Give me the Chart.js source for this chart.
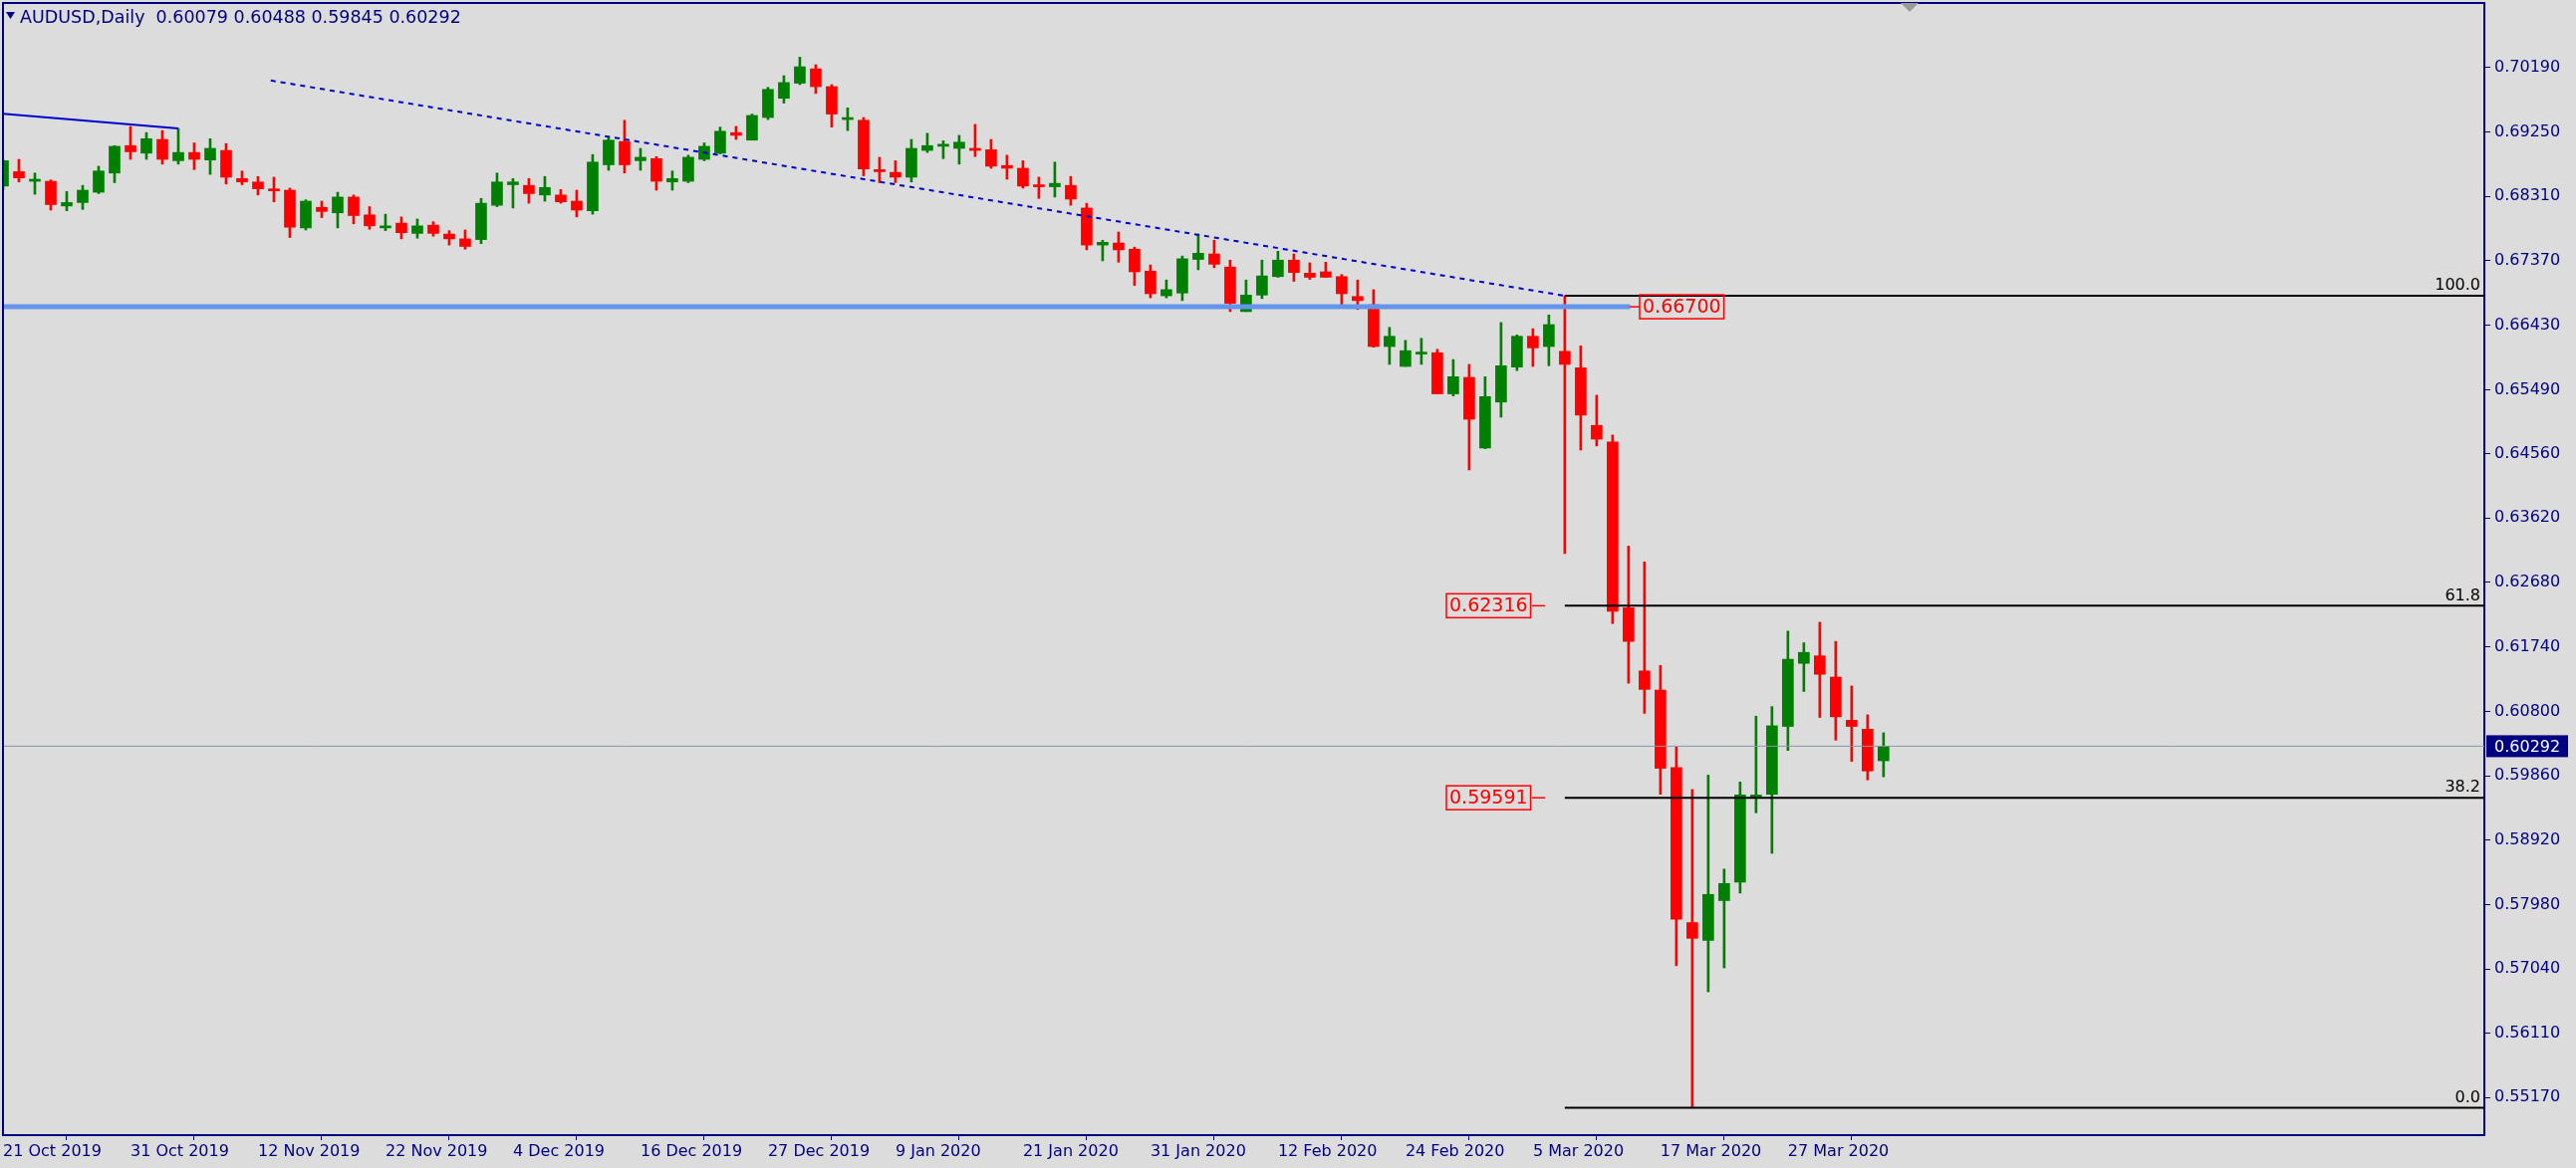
<!DOCTYPE html>
<html>
<head>
<meta charset="utf-8">
<script src="https://cdn.jsdelivr.net/npm/chart.js@4.4.1/dist/chart.umd.min.js"></script>
<style>
  html, body { margin: 0; padding: 0; background: #dcdcdc; }
  #wrap { width: 2586px; height: 1173px; }
</style>
</head>
<body>
<div id="wrap"><canvas id="c" width="2586" height="1173"></canvas></div>
<script>
// AUDUSD daily candles, 21 Oct 2019 .. 2 Apr 2020
const opens = [
  .6846,.6867,.6853,.6853,.6817,.6822,.6837,.6865,.6905,.6894,
  .6914,.6883,.6895,.6884,.6898,.6857,.6852,.6841,.6840,.6785,
  .6815,.6807,.6830,.6804,.6785,.6792,.6777,.6789,.6776,.6769,
  .6768,.6818,.6848,.6847,.6833,.6833,.6824,.6810,.6877,.6911,
  .6883,.6886,.6852,.6853,.6885,.6894,.6924,.6913,.6946,.6974,
  .6996,.7017,.6991,.6943,.6942,.6870,.6866,.6859,.6898,.6904,
  .6901,.6901,.6899,.6876,.6872,.6846,.6845,.6847,.6814,.6760,
  .6763,.6754,.6722,.6686,.6690,.6739,.6747,.6728,.6663,.6687,
  .6714,.6738,.6719,.6721,.6714,.6685,.6673,.6612,.6583,.6601,
  .6603,.6543,.6567,.6464,.6531,.6582,.6627,.6612,.6605,.6581,
  .6497,.6473,.6231,.6139,.6111,.5998,.5772,.5746,.5804,.5831,
  .5955,.5959,.6058,.6150,.6161,.6130,.6067,.6054,.60079
];
const closes = [
  .6883,.6858,.6856,.6819,.6822,.6840,.6868,.6904,.6896,.6915,
  .6885,.6895,.6885,.6901,.6859,.6852,.6842,.6839,.6786,.6824,
  .6809,.6830,.6803,.6788,.6786,.6778,.6788,.6777,.6769,.6758,
  .6821,.6852,.6852,.6835,.6844,.6823,.6811,.6881,.6913,.6877,
  .6888,.6853,.6857,.6888,.6904,.6926,.6920,.6949,.6987,.6997,
  .7020,.6991,.6951,.6943,.6871,.6867,.6859,.6901,.6905,.6907,
  .6910,.6898,.6875,.6872,.6846,.6845,.6850,.6827,.6760,.6764,
  .6753,.6721,.6689,.6695,.6740,.6748,.6732,.6675,.6687,.6715,
  .6738,.6720,.6713,.6713,.6689,.6679,.6612,.6627,.6606,.6602,
  .6543,.6568,.6506,.6539,.6584,.6627,.6610,.6644,.6586,.6512,
  .6477,.6226,.6182,.6112,.5997,.5777,.5749,.5813,.5829,.5958,
  .5958,.6059,.6156,.6166,.6134,.6072,.6058,.5993,.60292
];
const highs = [
  .6885,.6885,.6865,.6855,.6838,.6847,.6875,.6905,.6933,.6924,
  .6927,.6930,.6909,.6915,.6908,.6868,.6860,.6859,.6843,.6826,
  .6824,.6837,.6833,.6816,.6805,.6801,.6798,.6794,.6781,.6782,
  .6828,.6865,.6857,.6857,.6860,.6841,.6840,.6892,.6918,.6942,
  .6901,.6889,.6868,.6891,.6909,.6932,.6933,.6951,.6990,.7007,
  .7034,.7023,.6994,.6960,.6946,.6888,.6883,.6914,.6923,.6912,
  .6920,.6936,.6914,.6891,.6883,.6859,.6881,.6860,.6821,.6767,
  .6779,.6757,.6731,.6709,.6744,.6776,.6767,.6738,.6709,.6738,
  .6751,.6747,.6734,.6735,.6717,.6709,.6695,.6640,.6621,.6624,
  .6608,.6593,.6586,.6568,.6647,.6629,.6638,.6658,.6686,.6613,
  .6541,.6483,.6321,.6298,.6147,.6028,.5966,.5987,.5850,.5977,
  .6073,.6087,.6197,.6180,.6210,.6182,.6117,.6075,.60488
];
const lows = [
  .6841,.6852,.6834,.6811,.6810,.6812,.6835,.6851,.6885,.6885,
  .6878,.6878,.6870,.6863,.6849,.6848,.6833,.6823,.6771,.6782,
  .6800,.6785,.6791,.6783,.6781,.6769,.6770,.6773,.6760,.6754,
  .6762,.6816,.6814,.6821,.6824,.6821,.6801,.6805,.6869,.6865,
  .6869,.6840,.6840,.6851,.6883,.6893,.6914,.6913,.6943,.6967,
  .6994,.6981,.6932,.6927,.6861,.6851,.6851,.6852,.6895,.6886,
  .6878,.6889,.6872,.6856,.6843,.6828,.6830,.6818,.6753,.6737,
  .6735,.6701,.6683,.6683,.6679,.6724,.6727,.6663,.6663,.6682,
  .6713,.6707,.6710,.6713,.6673,.6666,.6611,.6586,.6583,.6586,
  .6543,.6540,.6432,.6463,.6509,.6577,.6583,.6584,.6310,.6461,
  .6467,.6208,.6121,.6077,.5959,.5709,.5502,.5671,.5706,.5815,
  .5932,.5873,.6023,.6109,.6071,.6038,.6007,.5980,.59845
];

// axis labels
const dateLabels = ['21 Oct 2019','31 Oct 2019','12 Nov 2019','22 Nov 2019','4 Dec 2019','16 Dec 2019',
  '27 Dec 2019','9 Jan 2020','21 Jan 2020','31 Jan 2020','12 Feb 2020','24 Feb 2020','5 Mar 2020',
  '17 Mar 2020','27 Mar 2020'];
const dateTickStep = 8;
const priceTicks = [0.70190,0.69250,0.68310,0.67370,0.66430,0.65490,0.64560,0.63620,0.62680,
  0.61740,0.60800,0.59860,0.58920,0.57980,0.57040,0.56110,0.55170];

// drawn objects
const fibLevels = [0.6686, 0.6234, 0.5954, 0.5502];
const fibNames = ['100.0', '61.8', '38.2', '0.0'];
const fibStart = 98;
const dottedTrend = [{x: 16.8, y: 0.7000}, {x: 98, y: 0.6686}];
const solidTrend = [{x: -0.2, y: 0.6952}, {x: 11, y: 0.6930}];
const supportLevel = 0.6670;
const supportEnd = 102.1;
const lastPrice = 0.60292;
const title = 'AUDUSD,Daily  0.60079 0.60488 0.59845 0.60292';

const NAVY = '#000080';
const UP = '#008000', DOWN = '#ff0000';
const xMax = 155.7;

const idx = opens.map((_, i) => i);
const colors = idx.map(i => closes[i] >= opens[i] ? UP : DOWN);

const datasets = [
  {
    type: 'line', data: [{x: -1, y: lastPrice}, {x: xMax + 1, y: lastPrice}],
    borderColor: '#8a96a8', borderWidth: 1, pointRadius: 0, order: 0
  },
  {
    type: 'line', data: [{x: -1, y: supportLevel}, {x: supportEnd, y: supportLevel}],
    borderColor: '#6495ed', borderWidth: 5, pointRadius: 0, order: 0
  },
  {
    type: 'line', data: dottedTrend,
    borderColor: '#0000cd', borderWidth: 2, borderDash: [5, 5], pointRadius: 0, order: 0
  },
  {
    type: 'line', data: solidTrend,
    borderColor: '#0000cd', borderWidth: 2, pointRadius: 0, order: 0
  },
  ...fibLevels.map(v => ({
    type: 'line', data: [{x: fibStart, y: v}, {x: xMax + 1, y: v}],
    borderColor: '#000', borderWidth: 2, pointRadius: 0, order: 0
  })),
  {
    type: 'bar', data: idx.map(i => ({x: i, y: [opens[i], closes[i]]})),
    backgroundColor: colors, barThickness: 11, minBarLength: 2, grouped: false, order: 1
  },
  {
    type: 'bar', data: idx.map(i => ({x: i, y: [lows[i], highs[i]]})),
    backgroundColor: colors, barThickness: 2, grouped: false, order: 2
  }
];

const overlay = {
  id: 'overlay',
  afterDraw(chart) {
    const {ctx, chartArea: a, scales: {x, y}} = chart;
    ctx.save();
    // frame
    ctx.strokeStyle = NAVY; ctx.lineWidth = 2;
    ctx.beginPath();
    ctx.moveTo(a.left, a.bottom); ctx.lineTo(a.left, a.top); ctx.lineTo(a.right, a.top);
    ctx.stroke();
    // title
    ctx.fillStyle = NAVY;
    ctx.beginPath(); ctx.moveTo(6, 12); ctx.lineTo(15, 12); ctx.lineTo(10.5, 19); ctx.fill();
    ctx.font = '17.5px "DejaVu Sans"'; ctx.textBaseline = 'middle';
    ctx.fillText(title, 20, 18);
    // grey marker at top
    ctx.fillStyle = '#9a9a9a';
    ctx.beginPath(); ctx.moveTo(1908, 3); ctx.lineTo(1926, 3); ctx.lineTo(1917, 12); ctx.fill();
    // fib names
    ctx.fillStyle = '#000'; ctx.font = '16px "DejaVu Sans"';
    ctx.textAlign = 'right'; ctx.textBaseline = 'bottom';
    fibLevels.forEach((v, i) => ctx.fillText(fibNames[i], a.right - 4, y.getPixelForValue(v) - 2));
    // price boxes
    const box = (txt, bx, py, lineFrom, lineTo) => {
      ctx.font = '19px "DejaVu Sans"';
      const w = ctx.measureText(txt).width + 6;
      ctx.strokeStyle = DOWN; ctx.lineWidth = 1.5; ctx.fillStyle = DOWN;
      ctx.strokeRect(bx, py - 12, w, 24);
      ctx.textAlign = 'left'; ctx.textBaseline = 'middle';
      ctx.fillText(txt, bx + 3, py + 1);
      ctx.beginPath(); ctx.moveTo(lineFrom, py); ctx.lineTo(lineTo, py); ctx.stroke();
    };
    box('0.66700', 1646, y.getPixelForValue(supportLevel), 1636, 1646);
    box('0.62316', 1452, y.getPixelForValue(fibLevels[1]), 1538, 1551);
    box('0.59591', 1452, y.getPixelForValue(fibLevels[2]), 1538, 1551);
    // last price tag
    const ly = y.getPixelForValue(lastPrice);
    ctx.fillStyle = NAVY; ctx.fillRect(a.right + 2, ly - 11, 82, 22);
    ctx.fillStyle = '#fff'; ctx.font = '16px "DejaVu Sans"';
    ctx.textAlign = 'left'; ctx.textBaseline = 'middle';
    ctx.fillText(lastPrice.toFixed(5), a.right + 10, ly + 1);
    ctx.restore();
  }
};

new Chart(document.getElementById('c'), {
  type: 'bar',
  data: {datasets},
  options: {
    responsive: false, animation: false, devicePixelRatio: 1,
    layout: {padding: {left: 3, top: 3, right: 0, bottom: 0}},
    plugins: {legend: {display: false}, tooltip: {enabled: false}},
    scales: {
      x: {
        type: 'linear', min: 0, max: xMax, offset: false,
        afterBuildTicks: s => { s.ticks = dateLabels.map((_, i) => ({value: i * dateTickStep})); },
        afterFit: s => { s.height = 33; s.paddingLeft = 0; s.paddingRight = 0; },
        ticks: {
          color: NAVY, font: {family: 'DejaVu Sans', size: 16}, align: 'start',
          padding: 2, maxRotation: 0, autoSkip: false,
          callback: v => dateLabels[Math.round(v / dateTickStep)]
        },
        grid: {drawOnChartArea: false, color: NAVY, tickLength: 5},
        border: {color: NAVY, width: 2}
      },
      y: {
        position: 'right', min: 0.5462, max: 0.7113,
        afterBuildTicks: s => { s.ticks = priceTicks.map(v => ({value: v})); },
        afterFit: s => { s.width = 92; s.paddingTop = 0; s.paddingBottom = 0; },
        ticks: {
          color: NAVY, font: {family: 'DejaVu Sans', size: 16}, padding: 4,
          callback: v => v.toFixed(5)
        },
        grid: {drawOnChartArea: false, color: NAVY, tickLength: 6},
        border: {color: NAVY, width: 2}
      }
    }
  },
  plugins: [overlay]
});
</script>
</body>
</html>
